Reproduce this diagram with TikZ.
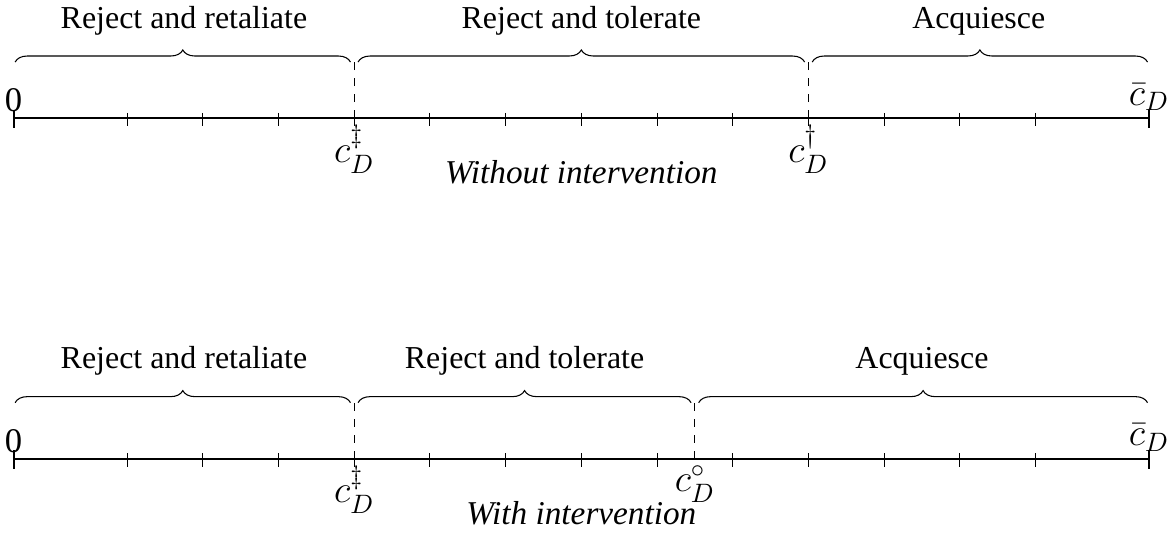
\documentclass[tikz,border=0pt]{standalone}
\usepackage{amsmath}
\usepackage{fontspec}
\setmainfont{Liberation Serif}
\usetikzlibrary{decorations.pathreplacing, positioning}

\tikzset{
  axisline/.style={thick},
  endtick/.style={thick},
  brc/.style={decorate, decoration={brace, amplitude=0.16cm}},
  regionlbl/.style={anchor=base},
  caselbl/.style={anchor=base, font=\fontsize{12.5}{15}\selectfont\itshape},
  mathlbl/.style={font=\fontsize{14}{16}\selectfont, inner sep=2.5pt},
}

\begin{document}
\begin{tikzpicture}[x=1cm,y=1cm,every node/.style={font=\fontsize{12}{14}\selectfont}]
\useasboundingbox (-0.18,-5.51) rectangle (15.29,1.56);

% without intervention
\coordinate (u0) at (0,0);
\coordinate (u1) at (15,0);
\draw[axisline] (u0) -- (u1);
\foreach \x in {1.5,2.5,...,13.5} \draw (\x,0.07) -- (\x,-0.11);
\draw[endtick] (0,0.11) -- (0,-0.13);
\draw[endtick] (15,0.11) -- (15,-0.13);
\node[above, inner sep=2pt, font=\fontsize{13}{15}\selectfont] (uzero) at (u0) {0};
\node[above, mathlbl] (ubar) at (u1) {$\bar{c}_D$};
\coordinate (ua) at (4.5,0);
\coordinate (ub) at (10.5,0);
\coordinate (uatop) at (4.5,0.74);
\coordinate (ubtop) at (10.5,0.74);
\draw[dashed] (ua) -- (uatop);
\draw[dashed] (ub) -- (ubtop);
\node[below, mathlbl] (ualbl) at (ua) {$c_D^{\ddagger}$};
\node[below, mathlbl] (ublbl) at (ub) {$c_D^{\dagger}$};
\draw[brc] (0.02,0.74) -- (4.45,0.74);
\draw[brc] (4.55,0.74) -- (10.45,0.74);
\draw[brc] (10.55,0.74) -- (14.98,0.74);
\node[regionlbl] (ur1) at (2.25,1.19) {Reject and retaliate};
\node[regionlbl] (ur2) at (7.5,1.19) {Reject and tolerate};
\node[regionlbl] (ur3) at (12.75,1.19) {Acquiesce};
\node[caselbl] (ucase) at (7.5,-0.87) {Without intervention};

% with intervention
\coordinate (w0) at (0,-4.5);
\coordinate (w1) at (15,-4.5);
\draw[axisline] (w0) -- (w1);
\foreach \x in {1.5,2.5,...,13.5} \draw (\x,-4.43) -- (\x,-4.61);
\draw[endtick] (0,-4.39) -- (0,-4.63);
\draw[endtick] (15,-4.39) -- (15,-4.63);
\node[above, inner sep=2pt, font=\fontsize{13}{15}\selectfont] (wzero) at (w0) {0};
\node[above, mathlbl] (wbar) at (w1) {$\bar{c}_D$};
\coordinate (wa) at (4.5,-4.5);
\coordinate (wb) at (9,-4.5);
\coordinate (watop) at (4.5,-3.76);
\coordinate (wbtop) at (9,-3.76);
\draw[dashed] (wa) -- (watop);
\draw[dashed] (wb) -- (wbtop);
\node[below, mathlbl] (walbl) at (wa) {$c_D^{\ddagger}$};
\node[below, mathlbl] (wblbl) at (wb) {$c_D^{\circ}$};
\draw[brc] (0.02,-3.76) -- (4.45,-3.76);
\draw[brc] (4.55,-3.76) -- (8.95,-3.76);
\draw[brc] (9.05,-3.76) -- (14.98,-3.76);
\node[regionlbl] (wr1) at (2.25,-3.31) {Reject and retaliate};
\node[regionlbl] (wr2) at (6.75,-3.31) {Reject and tolerate};
\node[regionlbl] (wr3) at (12,-3.31) {Acquiesce};
\node[caselbl] (wcase) at (7.5,-5.37) {With intervention};
\end{tikzpicture}
\end{document}
